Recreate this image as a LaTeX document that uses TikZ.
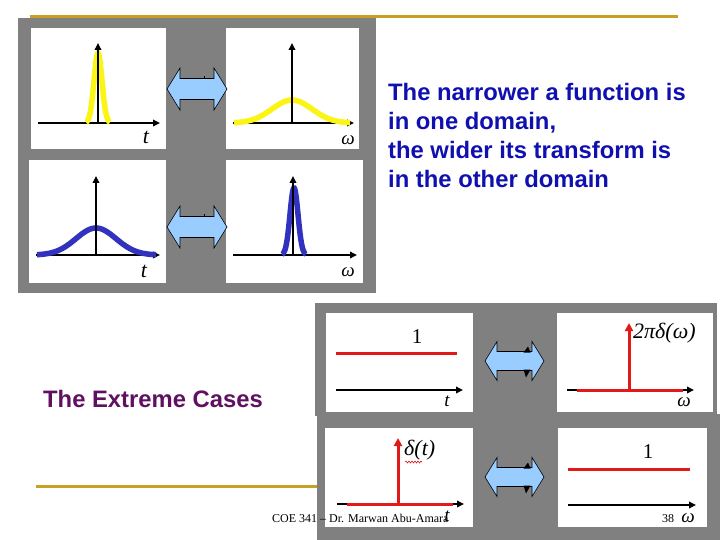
\documentclass[tikz,border=0pt]{standalone}
\usepackage{fontspec}
\setmainfont{Liberation Serif}
\newfontfamily\arialfont{Liberation Sans}
\usetikzlibrary{arrows.meta,decorations.pathmorphing}
\definecolor{slgray}{RGB}{128,128,128}
\definecolor{gold}{RGB}{200,160,40}
\definecolor{arrblue}{RGB}{153,204,255}
\definecolor{txtblue}{RGB}{16,16,176}
\definecolor{purp}{RGB}{96,16,96}
\definecolor{fyellow}{RGB}{250,245,20}
\definecolor{fblue}{RGB}{50,50,190}
\definecolor{fred}{RGB}{225,25,25}
\tikzset{
  panel/.style={fill=white,draw=none},
  grayblock/.style={fill=slgray,draw=none},
  axis/.style={line width=2.2pt,-{Triangle[length=7pt,width=6.5pt]}},
  redarr/.style={fred,line width=3pt,-{Triangle[length=8pt,width=8pt]}},
  redline/.style={fred,line width=3pt},
  gcurve/.style={line width=5.5pt},
  dblarrow/.style={fill=arrblue,draw=black,line width=0.6pt},
  lbl/.style={inner sep=0pt,font=\fontsize{22}{22}\selectfont\itshape},
  slbl/.style={inner sep=0pt,font=\fontsize{19}{19}\selectfont\itshape},
  numlbl/.style={inner sep=0pt,font=\fontsize{21}{21}\selectfont},
  bigtxt/.style={inner sep=0pt,anchor=base west,font=\arialfont\bfseries\fontsize{23.8}{29}\selectfont},
  dblA/.pic={\draw[dblarrow] (-30,0) -- (-17,-21) -- (-17,-10.5) -- (17,-10.5) -- (17,-21) -- (30,0) -- (17,21) -- (17,10.5) -- (-17,10.5) -- (-17,21) -- cycle;
             \draw[line width=0.8pt] (7,-10.5) -- (7,-13);},
  dblB/.pic={\draw[dblarrow] (-29.5,0) -- (-17.5,-19.5) -- (-17.5,-9.5) -- (17.5,-9.5) -- (17.5,-19.5) -- (29.5,0) -- (17.5,19.5) -- (17.5,9.5) -- (-17.5,9.5) -- (-17.5,19.5) -- cycle;
             \fill[black] (9,-8.5) -- (16,-8.5) -- (13.5,-14.5) -- cycle;
             \fill[black] (9,8.5) -- (16,8.5) -- (11.5,16.5) -- cycle;}
}
\begin{document}
\begin{tikzpicture}[x=1pt,y=-1pt]
\useasboundingbox (0,0) rectangle (720,540);
\fill[white] (0,0) rectangle (720,540);
% gold rules
\draw[gold,line width=3pt] (30,17) -- (678,17);
\draw[gold,line width=3pt] (36,486) -- (318,486);
% top group
\fill[grayblock] (18,18.5) rectangle (376,293);
\fill[panel] (31,28) rectangle (166,149);
\fill[panel] (226,28) rectangle (359,149);
\fill[panel] (29,160) rectangle (166,283);
\fill[panel] (226,160) rectangle (363,283);
% TL
\draw[axis] (38,123) -- (160,123);
\draw[gcurve,fyellow] plot[domain=-12:12,samples=60,smooth] ({98+\x},{123-70*exp(-pow(\x,2)/32)});
\draw[axis] (98,123) -- (98,43);
\node[lbl] (tA) at (146,137) {t};
% TR
\draw[axis] (233,123) -- (354,123);
\draw[gcurve,fyellow] plot[domain=-58:58,samples=80,smooth] ({292+\x},{123-23*exp(-pow(\x,2)/800)});
\draw[axis] (292,123) -- (292,43);
\node[slbl] (wA) at (348,140) {ω};
% BL
\draw[axis] (36,255) -- (160,255);
\draw[gcurve,fblue] plot[domain=-59:60,samples=80,smooth] ({96+\x},{255-27*exp(-pow(\x,2)/800)});
\draw[axis] (96,255) -- (96,176);
\node[lbl] (tB) at (144,271) {t};
% BR
\draw[axis] (233,255) -- (357,255);
\draw[gcurve,fblue] plot[domain=-12:12,samples=60,smooth] ({294+\x},{255-67*exp(-pow(\x,2)/32)});
\draw[axis] (293,255) -- (293,176);
\node[slbl] (wB) at (348,272) {ω};
% double arrows top
\pic at (197,89) {dblA};
\pic at (197,227) {dblA};
% text
\node[bigtxt,text=txtblue] (l1) at (388,101) {The narrower a function is};
\node[bigtxt,text=txtblue] (l2) at (388,130) {in one domain,};
\node[bigtxt,text=txtblue] (l3) at (388,159) {the wider its transform is};
\node[bigtxt,text=txtblue] (l4) at (388,188) {in the other domain};
\node[bigtxt,text=purp] (ext) at (43,407) {The Extreme Cases};
% bottom group
\fill[grayblock] (315,303) rectangle (717,416);
\fill[grayblock] (317,414) rectangle (720,540);
\fill[panel] (326,313) rectangle (473,412);
\fill[panel] (557,313) rectangle (713,412);
\fill[panel] (325,428) rectangle (473,527);
\fill[panel] (558,428) rectangle (707,527);
% P1
\draw[redline] (336,353) -- (457,353);
\draw[axis,line width=2pt] (336,390) -- (463,390);
\node[numlbl] (one1) at (417,337) {1};
\node[slbl] (t1) at (447,401) {t};
% P2
\draw[axis,line width=2pt] (567,390) -- (694,390);
\draw[redline] (577,390) -- (683,390);
\draw[redarr] (629,390) -- (629,323);
\node[inner sep=0pt,anchor=west,font=\fontsize{22}{22}\selectfont\itshape] (dw) at (633,333) {2πδ(ω)};
\node[slbl] (w1) at (684,402) {ω};
% P3
\draw[axis,line width=2pt] (337,504) -- (464,504);
\draw[redline] (347,504) -- (453,504);
\draw[redarr] (398,504) -- (398,438);
\node[inner sep=0pt,anchor=west,font=\fontsize{22}{22}\selectfont\itshape] (dt) at (404,450) {δ(t)};
\draw[fred,line width=0.6pt,decorate,decoration={snake,amplitude=1pt,segment length=3pt}] (405,462) -- (422,462);
% P4
\draw[redline] (568,469) -- (690,469);
\node[numlbl] (one2) at (648,452) {1};
\draw[axis,line width=2pt] (568,505) -- (696,505);
\node[slbl] (w2) at (688,518) {ω};
% double arrows bottom
\pic at (514.5,361) {dblB};
\pic at (514.5,477) {dblB};
% footer
\node[inner sep=0pt,anchor=base west,font=\fontsize{12}{12}\selectfont] (foot) at (272,522) {COE 341 – Dr. Marwan Abu-Amara};
\node[inner sep=0pt,anchor=base west,font=\fontsize{12}{12}\selectfont] (num) at (662,522) {38};
\node[slbl] (t2) at (447,516) {t};
\end{tikzpicture}
\end{document}
